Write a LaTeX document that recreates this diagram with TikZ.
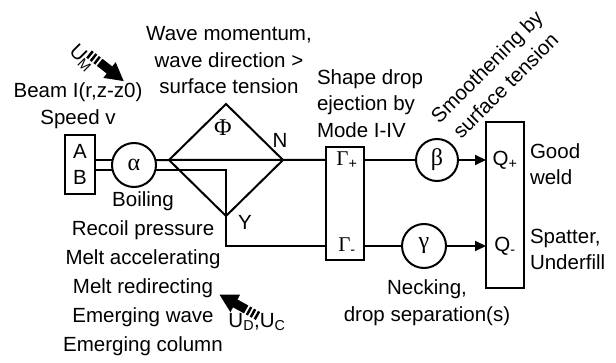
\documentclass[tikz,border=0pt]{standalone}
\usepackage{fontspec}
\setmainfont{Liberation Sans}
\newfontfamily\grk{Liberation Serif}
\usetikzlibrary{shapes.geometric,arrows.meta}
\begin{document}
\begin{tikzpicture}[x=1pt,y=-1pt,line width=2pt,
  every node/.style={inner sep=0pt,outer sep=0pt,font=\fontsize{20.5}{26.5}\selectfont},
  box/.style={draw,rectangle},
  ring/.style={draw,circle},
  greek/.style={font=\fontsize{24}{26}\selectfont\grk},
  arr/.style={-{Triangle[length=11pt,width=10pt]}},
  fatarrow/.pic={
    \fill (0,-4.5) rectangle (2.5,4.5);
    \fill (4.5,-4.5) rectangle (7,4.5);
    \fill (9,-4.5) rectangle (11.5,4.5);
    \fill (13.5,-4.5) -- (26,-4.5) -- (26,-10) -- (44,0) -- (26,10) -- (26,4.5) -- (13.5,4.5) -- cycle;
  }]
\useasboundingbox (0,0) rectangle (616,363);
% blocks
\node[box,minimum width=30pt,minimum height=59pt,align=center,font=\fontsize{20.5}{26}\selectfont] (AB) at (80,164.5) {A\\B};
\node[ring,greek,minimum size=44pt] (alpha) at (134,165) {α};
\node[draw,diamond,minimum width=114pt,minimum height=112pt] (dia) at (226,160) {};
\node[box,minimum width=38pt,minimum height=113pt] (G) at (345,203.5) {};
\node (Gp) at (347,160) {{\grk\fontsize{21}{24}\selectfont Γ}\textsubscript{+}};
\node (Gm) at (347,246) {{\grk\fontsize{21}{24}\selectfont Γ}\textsubscript{-}};
\node[ring,greek,minimum size=42pt] (beta) at (437,160) {β};
\node[ring,greek,minimum size=44pt] (gamma) at (424,246) {γ};
\node[box,minimum width=38pt,minimum height=166pt] (Q) at (505,205) {};
\node (Qp) at (505,160) {Q\textsubscript{+}};
\node (Qm) at (505,246) {Q\textsubscript{-}};
% connectors
\draw (AB.east |- alpha.167) -- (alpha.167);
\draw (AB.east |- alpha.193) -- (alpha.193);
\draw (alpha.13) -- (dia.west) -- (dia.east) -- (dia.east -| G.west);
\draw (alpha.-13) -- (alpha.-13 -| dia.south) -- (dia.south |- Gm) -- (G.west |- Gm);
\draw (G.east |- beta) -- (beta.west);
\draw[arr] (beta.east) -- (beta -| Q.west);
\draw (G.east |- gamma) -- (gamma.west);
\draw[arr] (gamma.east) -- (gamma -| Q.west);
% labels
\node[greek] (phi) at (223,128) {Φ};
\node (N) at (280,140) {N};
\node (Ylab) at (245,222) {Y};
\node[align=center] (wave) at (229,60.5) {Wave momentum,\\wave direction >\\surface tension};
\node[align=center] (beam) at (78,105.5) {Beam I(r,z-z0)\\Speed v};
\node[align=left,anchor=west] (shape) at (317,103.5) {Shape drop\\ejection by\\Mode I-IV};
\node[align=center,rotate=45] (smooth) at (496,76) {Smoothening by\\surface tension};
\node[align=left,anchor=west] (good) at (530,164) {Good\\weld};
\node[align=left,anchor=west] (spat) at (530,249.5) {Spatter,\\Underfill};
\node[align=center] (neck) at (427,302.5) {Necking,\\drop separation(s)};
\node[align=center,font=\fontsize{20.5}{29}\selectfont] (boil) at (143,274) {Boiling\\Recoil pressure\\Melt accelerating\\Melt redirecting\\Emerging wave\\Emerging column};
% fat arrows
\pic[rotate=-38] at (89,54) {fatarrow};
\pic[rotate=151] at (258,316) {fatarrow};
\node[rotate=-45] (UM) at (82,58) {U\textsubscript{M}};
\node (UDC) at (257,322) {U\textsubscript{D},U\textsubscript{C}};
\end{tikzpicture}
\end{document}
